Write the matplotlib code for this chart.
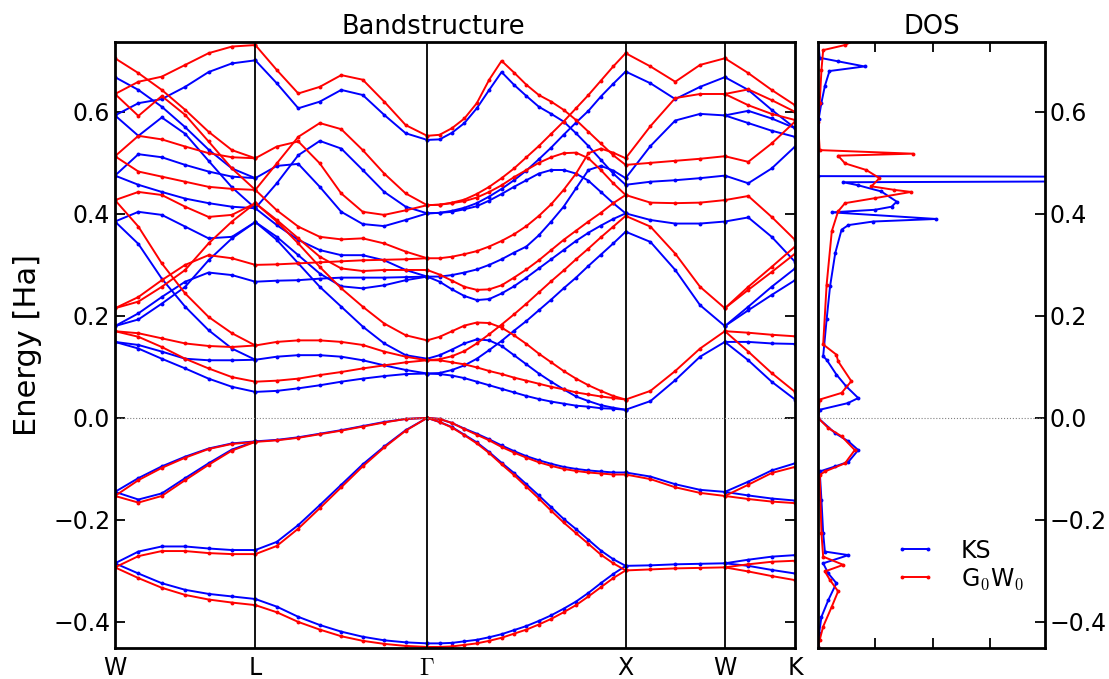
## Si bandstructure, KS vs G0W0, with DOS ##

import numpy as np
import matplotlib
matplotlib.use('Agg')
import matplotlib.pyplot as plt

plt.rcParams['mathtext.fontset'] = 'cm'
plt.rcParams['xtick.direction'] = 'in'
plt.rcParams['ytick.direction'] = 'in'

# high symmetry points, path length in 2pi/a
klabels = ['W', 'L', r'$\Gamma$', 'X', 'W', 'K']
kpos = [0.0, 0.7071, 1.5731, 2.5731, 3.0731, 3.4267]
npts = [7, 9, 17, 5, 4]

# energies in Ha, one list per band, per segment
ks_WL = [
    [0.668, 0.643, 0.610, 0.570, 0.526, 0.489, 0.470],
    [0.593, 0.617, 0.625, 0.649, 0.678, 0.695, 0.701],
    [0.593, 0.553, 0.589, 0.557, 0.504, 0.452, 0.411],
    [0.475, 0.457, 0.443, 0.430, 0.421, 0.414, 0.411],
    [0.475, 0.517, 0.511, 0.496, 0.483, 0.473, 0.470],
    [0.385, 0.404, 0.398, 0.375, 0.352, 0.355, 0.384],
    [0.385, 0.341, 0.273, 0.218, 0.172, 0.136, 0.114],
    [0.180, 0.205, 0.237, 0.267, 0.285, 0.280, 0.267],
    [0.180, 0.193, 0.224, 0.257, 0.309, 0.352, 0.384],
    [0.149, 0.136, 0.116, 0.097, 0.077, 0.061, 0.051],
    [0.149, 0.143, 0.130, 0.116, 0.113, 0.113, 0.114],
    [-0.285, -0.305, -0.324, -0.337, -0.345, -0.350, -0.355],
    [-0.285, -0.262, -0.252, -0.252, -0.256, -0.259, -0.259],
    [-0.145, -0.160, -0.148, -0.118, -0.089, -0.062, -0.046],
    [-0.145, -0.118, -0.095, -0.076, -0.060, -0.050, -0.046],
]
gw_WL = [
    [0.705, 0.676, 0.643, 0.604, 0.561, 0.525, 0.509],
    [0.635, 0.659, 0.669, 0.692, 0.715, 0.728, 0.731],
    [0.635, 0.592, 0.631, 0.594, 0.542, 0.489, 0.447],
    [0.513, 0.483, 0.473, 0.463, 0.453, 0.449, 0.447],
    [0.513, 0.553, 0.546, 0.532, 0.519, 0.511, 0.509],
    [0.427, 0.443, 0.437, 0.414, 0.394, 0.398, 0.421],
    [0.427, 0.375, 0.303, 0.244, 0.198, 0.166, 0.142],
    [0.215, 0.237, 0.270, 0.300, 0.319, 0.313, 0.300],
    [0.215, 0.228, 0.257, 0.290, 0.342, 0.385, 0.421],
    [0.170, 0.159, 0.139, 0.116, 0.097, 0.080, 0.071],
    [0.170, 0.166, 0.156, 0.146, 0.141, 0.139, 0.142],
    [-0.293, -0.314, -0.333, -0.347, -0.356, -0.362, -0.367],
    [-0.293, -0.271, -0.261, -0.261, -0.265, -0.267, -0.267],
    [-0.153, -0.166, -0.153, -0.122, -0.092, -0.064, -0.047],
    [-0.153, -0.122, -0.098, -0.078, -0.061, -0.051, -0.047],
]

ks_LG = [
    [0.701, 0.656, 0.607, 0.620, 0.643, 0.633, 0.594, 0.558, 0.545],
    [0.470, 0.494, 0.498, 0.453, 0.404, 0.380, 0.376, 0.388, 0.401],
    [0.411, 0.460, 0.515, 0.543, 0.528, 0.486, 0.443, 0.414, 0.401],
    [0.384, 0.355, 0.319, 0.283, 0.258, 0.254, 0.260, 0.270, 0.277],
    [0.411, 0.378, 0.349, 0.329, 0.319, 0.319, 0.309, 0.290, 0.277],
    [0.384, 0.349, 0.303, 0.257, 0.218, 0.179, 0.146, 0.123, 0.116],
    [0.267, 0.269, 0.270, 0.273, 0.275, 0.275, 0.275, 0.276, 0.277],
    [0.114, 0.120, 0.123, 0.123, 0.120, 0.113, 0.103, 0.094, 0.087],
    [0.051, 0.053, 0.058, 0.064, 0.071, 0.077, 0.082, 0.086, 0.087],
    [-0.355, -0.370, -0.390, -0.406, -0.419, -0.429, -0.436, -0.440, -0.442],
    [-0.259, -0.243, -0.210, -0.171, -0.131, -0.091, -0.056, -0.024, 0.0],
    [-0.046, -0.043, -0.038, -0.031, -0.024, -0.016, -0.008, -0.002, 0.0],
]
gw_LG = [
    [0.731, 0.682, 0.636, 0.649, 0.672, 0.663, 0.620, 0.574, 0.553],
    [0.509, 0.532, 0.542, 0.499, 0.440, 0.404, 0.398, 0.407, 0.417],
    [0.447, 0.499, 0.551, 0.578, 0.566, 0.525, 0.479, 0.440, 0.417],
    [0.421, 0.388, 0.352, 0.316, 0.293, 0.288, 0.290, 0.290, 0.290],
    [0.447, 0.407, 0.375, 0.355, 0.350, 0.352, 0.342, 0.326, 0.313],
    [0.421, 0.385, 0.342, 0.296, 0.254, 0.218, 0.185, 0.162, 0.152],
    [0.300, 0.301, 0.303, 0.305, 0.307, 0.309, 0.310, 0.311, 0.313],
    [0.142, 0.149, 0.152, 0.152, 0.149, 0.143, 0.130, 0.120, 0.113],
    [0.071, 0.073, 0.077, 0.084, 0.090, 0.097, 0.103, 0.109, 0.113],
    [-0.367, -0.381, -0.400, -0.415, -0.428, -0.437, -0.443, -0.447, -0.449],
    [-0.267, -0.251, -0.217, -0.177, -0.136, -0.095, -0.058, -0.025, 0.0],
    [-0.047, -0.044, -0.039, -0.032, -0.025, -0.017, -0.009, -0.002, 0.0],
]

ks_GX = [
    [0.545, 0.546, 0.559, 0.578, 0.607, 0.643, 0.678, 0.653, 0.631, 0.610, 0.596, 0.581, 0.558, 0.533, 0.506, 0.479, 0.457],
    [0.401, 0.402, 0.406, 0.412, 0.421, 0.434, 0.449, 0.466, 0.485, 0.507, 0.530, 0.555, 0.579, 0.602, 0.630, 0.655, 0.679],
    [0.401, 0.402, 0.404, 0.409, 0.415, 0.426, 0.439, 0.453, 0.466, 0.479, 0.486, 0.486, 0.479, 0.465, 0.443, 0.421, 0.401],
    [0.277, 0.277, 0.280, 0.285, 0.291, 0.300, 0.311, 0.324, 0.336, 0.358, 0.385, 0.414, 0.450, 0.486, 0.494, 0.485, 0.470],
    [0.087, 0.086, 0.083, 0.078, 0.071, 0.064, 0.057, 0.050, 0.043, 0.037, 0.032, 0.028, 0.024, 0.022, 0.019, 0.018, 0.016],
    [0.116, 0.123, 0.134, 0.146, 0.154, 0.152, 0.141, 0.123, 0.105, 0.087, 0.071, 0.056, 0.042, 0.033, 0.025, 0.020, 0.016],
    [0.087, 0.088, 0.094, 0.103, 0.116, 0.133, 0.151, 0.171, 0.190, 0.211, 0.232, 0.254, 0.275, 0.298, 0.320, 0.342, 0.365],
    [0.277, 0.267, 0.252, 0.239, 0.231, 0.233, 0.244, 0.258, 0.275, 0.293, 0.311, 0.329, 0.347, 0.363, 0.377, 0.390, 0.401],
    [-0.442, -0.442, -0.441, -0.438, -0.435, -0.430, -0.424, -0.416, -0.408, -0.398, -0.387, -0.374, -0.360, -0.343, -0.324, -0.306, -0.290],
    [0.0, -0.008, -0.018, -0.033, -0.048, -0.067, -0.088, -0.108, -0.130, -0.152, -0.175, -0.198, -0.218, -0.239, -0.260, -0.277, -0.290],
    [0.0, -0.002, -0.010, -0.021, -0.031, -0.042, -0.054, -0.065, -0.075, -0.083, -0.090, -0.096, -0.100, -0.103, -0.105, -0.107, -0.107],
]
gw_GX = [
    [0.553, 0.555, 0.568, 0.587, 0.617, 0.663, 0.700, 0.677, 0.653, 0.633, 0.620, 0.604, 0.584, 0.561, 0.538, 0.515, 0.496],
    [0.417, 0.418, 0.422, 0.428, 0.439, 0.453, 0.470, 0.489, 0.511, 0.533, 0.557, 0.581, 0.607, 0.633, 0.661, 0.689, 0.715],
    [0.417, 0.418, 0.421, 0.425, 0.432, 0.443, 0.456, 0.472, 0.486, 0.500, 0.511, 0.519, 0.520, 0.509, 0.486, 0.460, 0.437],
    [0.313, 0.313, 0.316, 0.321, 0.327, 0.336, 0.347, 0.360, 0.376, 0.396, 0.419, 0.447, 0.479, 0.519, 0.528, 0.520, 0.509],
    [0.113, 0.113, 0.109, 0.105, 0.099, 0.092, 0.086, 0.079, 0.073, 0.067, 0.061, 0.056, 0.050, 0.046, 0.042, 0.039, 0.036],
    [0.152, 0.159, 0.170, 0.181, 0.187, 0.186, 0.177, 0.162, 0.145, 0.126, 0.109, 0.092, 0.077, 0.064, 0.053, 0.043, 0.036],
    [0.113, 0.115, 0.121, 0.131, 0.146, 0.164, 0.183, 0.203, 0.224, 0.246, 0.268, 0.289, 0.311, 0.332, 0.354, 0.375, 0.396],
    [0.290, 0.281, 0.269, 0.257, 0.251, 0.252, 0.260, 0.275, 0.291, 0.309, 0.329, 0.349, 0.367, 0.385, 0.402, 0.421, 0.437],
    [-0.449, -0.449, -0.448, -0.445, -0.442, -0.437, -0.431, -0.423, -0.415, -0.405, -0.394, -0.381, -0.367, -0.350, -0.332, -0.314, -0.299],
    [0.0, -0.008, -0.019, -0.034, -0.050, -0.069, -0.091, -0.112, -0.135, -0.158, -0.182, -0.205, -0.226, -0.247, -0.268, -0.285, -0.299],
    [0.0, -0.002, -0.010, -0.022, -0.033, -0.044, -0.057, -0.068, -0.078, -0.087, -0.094, -0.100, -0.104, -0.107, -0.109, -0.111, -0.111],
]

ks_XW = [
    [0.016, 0.033, 0.074, 0.120, 0.149],
    [0.365, 0.345, 0.290, 0.221, 0.180],
    [0.401, 0.388, 0.381, 0.381, 0.385],
    [0.457, 0.463, 0.466, 0.470, 0.475],
    [0.470, 0.533, 0.583, 0.596, 0.593],
    [0.679, 0.656, 0.625, 0.649, 0.668],
    [-0.290, -0.289, -0.287, -0.286, -0.285],
    [-0.107, -0.115, -0.130, -0.141, -0.145],
]
gw_XW = [
    [0.036, 0.053, 0.092, 0.136, 0.170],
    [0.396, 0.375, 0.322, 0.257, 0.215],
    [0.437, 0.422, 0.421, 0.422, 0.427],
    [0.496, 0.500, 0.504, 0.508, 0.513],
    [0.509, 0.572, 0.627, 0.635, 0.635],
    [0.715, 0.689, 0.659, 0.692, 0.705],
    [-0.299, -0.297, -0.295, -0.294, -0.293],
    [-0.111, -0.120, -0.136, -0.147, -0.153],
]

ks_WK = [
    [0.668, 0.643, 0.604, 0.568],
    [0.593, 0.602, 0.587, 0.568],
    [0.593, 0.578, 0.563, 0.551],
    [0.475, 0.460, 0.489, 0.532],
    [0.385, 0.393, 0.355, 0.306],
    [0.180, 0.218, 0.257, 0.293],
    [0.180, 0.211, 0.241, 0.270],
    [0.149, 0.149, 0.146, 0.145],
    [0.149, 0.113, 0.071, 0.036],
    [-0.285, -0.290, -0.298, -0.305],
    [-0.285, -0.278, -0.272, -0.269],
    [-0.145, -0.152, -0.158, -0.162],
    [-0.145, -0.125, -0.103, -0.089],
]
gw_WK = [
    [0.705, 0.676, 0.643, 0.613],
    [0.635, 0.644, 0.623, 0.600],
    [0.635, 0.613, 0.596, 0.584],
    [0.513, 0.502, 0.538, 0.581],
    [0.427, 0.435, 0.394, 0.349],
    [0.215, 0.257, 0.296, 0.336],
    [0.215, 0.251, 0.286, 0.322],
    [0.170, 0.167, 0.163, 0.160],
    [0.170, 0.130, 0.088, 0.051],
    [-0.293, -0.301, -0.310, -0.318],
    [-0.293, -0.287, -0.282, -0.280],
    [-0.153, -0.159, -0.164, -0.167],
    [-0.153, -0.131, -0.108, -0.096],
]

ks_segs = [ks_WL, ks_LG, ks_GX, ks_XW, ks_WK]
gw_segs = [gw_WL, gw_LG, gw_GX, gw_XW, gw_WK]

# DOS (energy in Ha, arb. units)
dos_e_ks = [-0.45, -0.422, -0.39, -0.357, -0.324, -0.305, -0.285, -0.269, -0.262, -0.226,
            -0.161, -0.105, -0.095, -0.086, -0.063, -0.046, -0.030, 0.0, 0.016, 0.029,
            0.039, 0.062, 0.085, 0.114, 0.121, 0.193, 0.258, 0.323, 0.369, 0.378,
            0.385, 0.390, 0.403, 0.408, 0.414, 0.424, 0.444, 0.456, 0.462, 0.465,
            0.472, 0.474, 0.585, 0.618, 0.651, 0.680, 0.689, 0.699, 0.706, 0.74]
dos_ks = [0.0, 0.02, 0.06, 0.18, 0.32, 0.18, 0.09, 0.53, 0.12, 0.09,
          0.06, 0.03, 0.30, 0.53, 0.70, 0.53, 0.30, 0.0, 0.03, 0.52,
          0.70, 0.49, 0.32, 0.15, 0.09, 0.15, 0.21, 0.30, 0.41, 0.53,
          0.96, 2.06, 0.24, 0.99, 1.28, 1.37, 1.10, 0.70, 0.44, 8.0,
          8.0, 0.0, 0.01, 0.06, 0.12, 0.20, 0.81, 0.35, 0.03, 0.0]
dos_e_gw = [-0.45, -0.435, -0.409, -0.370, -0.340, -0.318, -0.301, -0.288, -0.272, -0.226,
            -0.112, -0.105, -0.089, -0.063, -0.036, -0.020, 0.0, 0.036, 0.049, 0.072,
            0.111, 0.124, 0.144, 0.261, 0.366, 0.405, 0.421, 0.431, 0.443, 0.447,
            0.454, 0.470, 0.486, 0.499, 0.514, 0.518, 0.525, 0.580, 0.618, 0.682,
            0.721, 0.731, 0.75]
dos_gw = [0.0, 0.03, 0.09, 0.24, 0.35, 0.21, 0.12, 0.44, 0.09, 0.06,
          0.03, 0.12, 0.47, 0.64, 0.41, 0.18, 0.0, 0.03, 0.41, 0.58,
          0.35, 0.32, 0.09, 0.15, 0.24, 0.35, 0.47, 1.00, 1.62, 1.33,
          0.93, 1.07, 0.84, 0.47, 0.35, 1.65, 0.03, 0.0, 0.03, 0.06,
          0.09, 0.47, 0.80]

ymin, ymax = -0.451, 0.737

fig = plt.figure(figsize=(11.09, 6.79), dpi=100)
ax = fig.add_axes([0.1037, 0.0457, 0.6132, 0.8925])
ax2 = fig.add_axes([0.7376, 0.0457, 0.2047, 0.8925])

style = dict(marker='o', ms=2.8, mew=0, lw=1.4)
for i in range(len(ks_segs)):
    k = np.linspace(kpos[i], kpos[i + 1], npts[i])
    for b in ks_segs[i]:
        ax.plot(k, b, color='b', **style)
for i in range(len(gw_segs)):
    k = np.linspace(kpos[i], kpos[i + 1], npts[i])
    for b in gw_segs[i]:
        ax.plot(k, b, color='r', **style)

for kp in kpos[1:-1]:
    ax.axvline(kp, color='k', lw=1.3)
ax.axhline(0.0, color='gray', ls=':', lw=0.8)

ax.set_xlim(kpos[0], kpos[-1])
ax.set_ylim(ymin, ymax)
ax.set_xticks(kpos)
ax.set_xticklabels(klabels)
ax.set_yticks([-0.4, -0.2, 0.0, 0.2, 0.4, 0.6])
ax.tick_params(axis='x', length=0, labelsize=17, pad=6)
ax.tick_params(axis='y', left=True, right=True, length=7, width=1.3, labelsize=17)
ax.set_ylabel('Energy [Ha]', fontsize=22, labelpad=8)
ax.set_title('Bandstructure', fontsize=18.5, x=0.468)
for s in ax.spines.values():
    s.set_linewidth(2)

ax2.plot(dos_ks, dos_e_ks, color='b', label='KS', **style)
ax2.plot(dos_gw, dos_e_gw, color='r', label=r'G$_0$W$_0$', **style)
ax2.axhline(0.0, color='gray', ls=':', lw=0.8)
ax2.set_xlim(0, 3.95)
ax2.set_ylim(ymin, ymax)
ax2.set_xticks([1, 2, 3])
ax2.set_xticklabels([])
ax2.set_yticks([-0.4, -0.2, 0.0, 0.2, 0.4, 0.6])
ax2.yaxis.tick_right()
ax2.tick_params(axis='x', top=True, bottom=True, length=7, width=1.3)
ax2.tick_params(axis='y', left=False, right=True, length=7, width=1.3, labelsize=17)
ax2.set_title('DOS', fontsize=18.5)
for s in ax2.spines.values():
    s.set_linewidth(2)
ax2.legend(loc='lower right', bbox_to_anchor=(1.0, 0.058), frameon=False,
           fontsize=17, numpoints=2, handlelength=1.7, handletextpad=1.1,
           labelspacing=0.15)

fig.savefig('out.png', dpi=100)
